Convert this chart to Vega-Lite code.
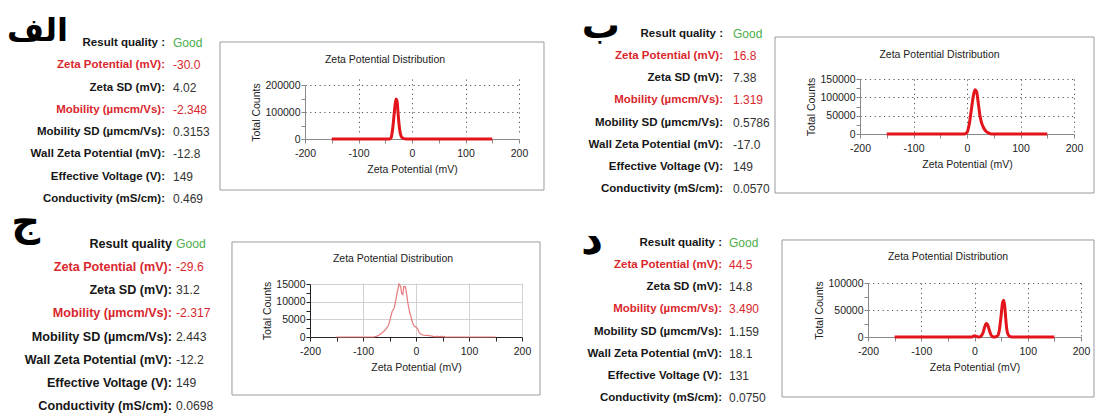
{
  "$schema": "https://vega.github.io/schema/vega-lite/v6.json",
  "padding": 0,
  "background": "white",
  "columns": 4,
  "spacing": 0,
  "bounds": "flush",
  "align": "each",
  "config": {
    "view": {"stroke": null},
    "font": "Liberation Sans",
    "axis": {
      "labelFont": "Liberation Sans", "labelFontSize": 10.5, "labelColor": "#222",
      "titleFont": "Liberation Sans", "titleFontSize": 10.5, "titleFontWeight": "normal", "titleColor": "#222",
      "tickSize": 4, "labelFlush": false, "labelOverlap": false,
      "domainWidth": 1, "tickWidth": 1, "gridWidth": 1, "tickCount": 50
    },
    "axisX": {"labelPadding": 5, "titlePadding": 6},
    "axisY": {"labelPadding": 1, "titlePadding": 3}
  },
  "datasets": {
    "info": [
      {"panel": "A", "row": 0, "label": "Result quality :", "value": "Good", "kind": "good"},
      {"panel": "A", "row": 1, "label": "Zeta Potential (mV):", "value": "-30.0", "kind": "red"},
      {"panel": "A", "row": 2, "label": "Zeta SD (mV):", "value": "4.02", "kind": "normal"},
      {"panel": "A", "row": 3, "label": "Mobility (µmcm/Vs):", "value": "-2.348", "kind": "red"},
      {"panel": "A", "row": 4, "label": "Mobility SD (µmcm/Vs):", "value": "0.3153", "kind": "normal"},
      {"panel": "A", "row": 5, "label": "Wall Zeta Potential (mV):", "value": "-12.8", "kind": "normal"},
      {"panel": "A", "row": 6, "label": "Effective Voltage (V):", "value": "149", "kind": "normal"},
      {"panel": "A", "row": 7, "label": "Conductivity (mS/cm):", "value": "0.469", "kind": "normal"},
      {"panel": "B", "row": 0, "label": "Result quality :", "value": "Good", "kind": "good"},
      {"panel": "B", "row": 1, "label": "Zeta Potential (mV):", "value": "16.8", "kind": "red"},
      {"panel": "B", "row": 2, "label": "Zeta SD (mV):", "value": "7.38", "kind": "normal"},
      {"panel": "B", "row": 3, "label": "Mobility (µmcm/Vs):", "value": "1.319", "kind": "red"},
      {"panel": "B", "row": 4, "label": "Mobility SD (µmcm/Vs):", "value": "0.5786", "kind": "normal"},
      {"panel": "B", "row": 5, "label": "Wall Zeta Potential (mV):", "value": "-17.0", "kind": "normal"},
      {"panel": "B", "row": 6, "label": "Effective Voltage (V):", "value": "149", "kind": "normal"},
      {"panel": "B", "row": 7, "label": "Conductivity (mS/cm):", "value": "0.0570", "kind": "normal"},
      {"panel": "C", "row": 0, "label": "Result quality\u00a0\u00a0", "value": "Good", "kind": "good"},
      {"panel": "C", "row": 1, "label": "Zeta Potential (mV):", "value": "-29.6", "kind": "red"},
      {"panel": "C", "row": 2, "label": "Zeta SD (mV):", "value": "31.2", "kind": "normal"},
      {"panel": "C", "row": 3, "label": "Mobility (µmcm/Vs):", "value": "-2.317", "kind": "red"},
      {"panel": "C", "row": 4, "label": "Mobility SD (µmcm/Vs):", "value": "2.443", "kind": "normal"},
      {"panel": "C", "row": 5, "label": "Wall Zeta Potential (mV):", "value": "-12.2", "kind": "normal"},
      {"panel": "C", "row": 6, "label": "Effective Voltage (V):", "value": "149", "kind": "normal"},
      {"panel": "C", "row": 7, "label": "Conductivity (mS/cm):", "value": "0.0698", "kind": "normal"},
      {"panel": "D", "row": 0, "label": "Result quality :", "value": "Good", "kind": "good"},
      {"panel": "D", "row": 1, "label": "Zeta Potential (mV):", "value": "44.5", "kind": "red"},
      {"panel": "D", "row": 2, "label": "Zeta SD (mV):", "value": "14.8", "kind": "normal"},
      {"panel": "D", "row": 3, "label": "Mobility (µmcm/Vs):", "value": "3.490", "kind": "red"},
      {"panel": "D", "row": 4, "label": "Mobility SD (µmcm/Vs):", "value": "1.159", "kind": "normal"},
      {"panel": "D", "row": 5, "label": "Wall Zeta Potential (mV):", "value": "18.1", "kind": "normal"},
      {"panel": "D", "row": 6, "label": "Effective Voltage (V):", "value": "131", "kind": "normal"},
      {"panel": "D", "row": 7, "label": "Conductivity (mS/cm):", "value": "0.0750", "kind": "normal"}
    ],
    "letters": [
      {"panel": "A", "letter": "الف"},
      {"panel": "B", "letter": "ب"},
      {"panel": "C", "letter": "ج"},
      {"panel": "D", "letter": "د"}
    ],
    "curves": [
      {"panel": "A", "zeta": -150, "counts": 0}, {"panel": "A", "zeta": -100, "counts": 0}, {"panel": "A", "zeta": -50, "counts": 0},
      {"panel": "A", "zeta": -42, "counts": 0}, {"panel": "A", "zeta": -39, "counts": 5000}, {"panel": "A", "zeta": -36, "counts": 40000},
      {"panel": "A", "zeta": -33, "counts": 100000}, {"panel": "A", "zeta": -30, "counts": 148000}, {"panel": "A", "zeta": -28, "counts": 140000},
      {"panel": "A", "zeta": -26, "counts": 95000}, {"panel": "A", "zeta": -24, "counts": 50000}, {"panel": "A", "zeta": -22, "counts": 22000},
      {"panel": "A", "zeta": -20, "counts": 9000}, {"panel": "A", "zeta": -17, "counts": 3000}, {"panel": "A", "zeta": -13, "counts": 500},
      {"panel": "A", "zeta": -10, "counts": 0}, {"panel": "A", "zeta": 50, "counts": 0}, {"panel": "A", "zeta": 100, "counts": 0},
      {"panel": "A", "zeta": 150, "counts": 0},
      {"panel": "B", "zeta": -150, "counts": 0}, {"panel": "B", "zeta": -100, "counts": 0}, {"panel": "B", "zeta": -50, "counts": 0},
      {"panel": "B", "zeta": -5, "counts": 0}, {"panel": "B", "zeta": 0, "counts": 4000}, {"panel": "B", "zeta": 4, "counts": 25000},
      {"panel": "B", "zeta": 8, "counts": 65000}, {"panel": "B", "zeta": 12, "counts": 105000}, {"panel": "B", "zeta": 15, "counts": 121000},
      {"panel": "B", "zeta": 18, "counts": 115000}, {"panel": "B", "zeta": 21, "counts": 85000}, {"panel": "B", "zeta": 24, "counts": 52000},
      {"panel": "B", "zeta": 27, "counts": 32000}, {"panel": "B", "zeta": 31, "counts": 17000}, {"panel": "B", "zeta": 35, "counts": 8000},
      {"panel": "B", "zeta": 40, "counts": 3000}, {"panel": "B", "zeta": 46, "counts": 0}, {"panel": "B", "zeta": 100, "counts": 0},
      {"panel": "B", "zeta": 150, "counts": 0},
      {"panel": "C", "zeta": -150, "counts": 0}, {"panel": "C", "zeta": -100, "counts": 0}, {"panel": "C", "zeta": -80, "counts": 0},
      {"panel": "C", "zeta": -72, "counts": 300}, {"panel": "C", "zeta": -66, "counts": 900}, {"panel": "C", "zeta": -60, "counts": 1700},
      {"panel": "C", "zeta": -56, "counts": 2400}, {"panel": "C", "zeta": -52, "counts": 3300}, {"panel": "C", "zeta": -48, "counts": 5500},
      {"panel": "C", "zeta": -45, "counts": 7200}, {"panel": "C", "zeta": -41, "counts": 8300}, {"panel": "C", "zeta": -38, "counts": 10500},
      {"panel": "C", "zeta": -35, "counts": 13000}, {"panel": "C", "zeta": -32, "counts": 15000}, {"panel": "C", "zeta": -29, "counts": 14300},
      {"panel": "C", "zeta": -27, "counts": 12300}, {"panel": "C", "zeta": -25, "counts": 12000}, {"panel": "C", "zeta": -23, "counts": 14300},
      {"panel": "C", "zeta": -20, "counts": 14200}, {"panel": "C", "zeta": -18, "counts": 12500}, {"panel": "C", "zeta": -15, "counts": 9300},
      {"panel": "C", "zeta": -12, "counts": 7000}, {"panel": "C", "zeta": -9, "counts": 5500}, {"panel": "C", "zeta": -6, "counts": 3800},
      {"panel": "C", "zeta": -3, "counts": 3000}, {"panel": "C", "zeta": 0, "counts": 2800}, {"panel": "C", "zeta": 3, "counts": 2300},
      {"panel": "C", "zeta": 6, "counts": 1300}, {"panel": "C", "zeta": 10, "counts": 700}, {"panel": "C", "zeta": 15, "counts": 500},
      {"panel": "C", "zeta": 20, "counts": 450}, {"panel": "C", "zeta": 25, "counts": 400}, {"panel": "C", "zeta": 30, "counts": 250},
      {"panel": "C", "zeta": 35, "counts": 100}, {"panel": "C", "zeta": 40, "counts": 200}, {"panel": "C", "zeta": 45, "counts": 100},
      {"panel": "C", "zeta": 50, "counts": 150}, {"panel": "C", "zeta": 55, "counts": 50}, {"panel": "C", "zeta": 60, "counts": 0},
      {"panel": "C", "zeta": 100, "counts": 0}, {"panel": "C", "zeta": 150, "counts": 0},
      {"panel": "D", "zeta": -150, "counts": 0}, {"panel": "D", "zeta": -100, "counts": 0}, {"panel": "D", "zeta": -50, "counts": 0},
      {"panel": "D", "zeta": -5, "counts": 0}, {"panel": "D", "zeta": -2, "counts": 1500}, {"panel": "D", "zeta": 0, "counts": 2500},
      {"panel": "D", "zeta": 3, "counts": 1000}, {"panel": "D", "zeta": 8, "counts": 0}, {"panel": "D", "zeta": 12, "counts": 1500},
      {"panel": "D", "zeta": 16, "counts": 8000}, {"panel": "D", "zeta": 19, "counts": 18000}, {"panel": "D", "zeta": 22, "counts": 25000},
      {"panel": "D", "zeta": 25, "counts": 22000}, {"panel": "D", "zeta": 28, "counts": 12000}, {"panel": "D", "zeta": 31, "counts": 4000},
      {"panel": "D", "zeta": 34, "counts": 800}, {"panel": "D", "zeta": 37, "counts": 0}, {"panel": "D", "zeta": 40, "counts": 300},
      {"panel": "D", "zeta": 44, "counts": 3000}, {"panel": "D", "zeta": 47, "counts": 15000}, {"panel": "D", "zeta": 50, "counts": 40000},
      {"panel": "D", "zeta": 53, "counts": 65000}, {"panel": "D", "zeta": 55, "counts": 68000}, {"panel": "D", "zeta": 57, "counts": 55000},
      {"panel": "D", "zeta": 59, "counts": 30000}, {"panel": "D", "zeta": 61, "counts": 12000}, {"panel": "D", "zeta": 64, "counts": 3000},
      {"panel": "D", "zeta": 68, "counts": 300}, {"panel": "D", "zeta": 72, "counts": 0}, {"panel": "D", "zeta": 100, "counts": 0},
      {"panel": "D", "zeta": 150, "counts": 0}
    ]
  },
  "concat": [
    {"width": 1, "height": 79, "data": {"values": []}, "mark": {"type": "point"}, "encoding": {}},
    {"width": 1, "height": 79, "data": {"values": []}, "mark": {"type": "point"}, "encoding": {}},
    {"width": 1, "height": 79, "data": {"values": []}, "mark": {"type": "point"}, "encoding": {}},
    {"width": 1, "height": 79, "data": {"values": []}, "mark": {"type": "point"}, "encoding": {}},
    {
      "width": 305, "height": 40,
      "layer": [
        {"data": {"name": "info"}, "transform": [{"filter": "datum.panel === 'A'"}],
         "mark": {"type": "text", "align": "right", "baseline": "middle", "font": "Liberation Sans", "fontWeight": "bold", "fontSize": 11.5},
         "encoding": {
           "x": {"datum": "label", "type": "nominal", "scale": {"type": "point", "domain": ["label", "value"], "range": [165, 173], "padding": 0}, "axis": null},
           "y": {"field": "row", "type": "ordinal", "scale": {"type": "point", "range": [-36, 120], "padding": 0}, "axis": null},
           "text": {"field": "label"},
           "color": {"condition": {"test": "datum.kind === 'red'", "value": "#d9272e"}, "value": "#161616"}}},
        {"data": {"name": "info"}, "transform": [{"filter": "datum.panel === 'A'"}],
         "mark": {"type": "text", "align": "left", "baseline": "middle", "font": "Liberation Sans", "fontSize": 12},
         "encoding": {
           "x": {"datum": "value", "type": "nominal"},
           "y": {"field": "row", "type": "ordinal"},
           "text": {"field": "value"},
           "color": {"condition": [{"test": "datum.kind === 'red'", "value": "#d9272e"}, {"test": "datum.kind === 'good'", "value": "#4cae4c"}], "value": "#333333"}}},
        {"data": {"name": "letters"}, "transform": [{"filter": "datum.panel === 'A'"}],
         "mark": {"type": "text", "align": "right", "baseline": "middle", "font": "DejaVu Sans", "fontWeight": "bold", "fontSize": 32, "dx": -97, "dy": -12, "color": "#000"},
         "encoding": {"x": {"datum": "label", "type": "nominal"}, "y": {"datum": 0, "type": "ordinal"}, "text": {"field": "letter"}}}
      ]
    },
    {
      "width": 214, "height": 60,
      "title": {"text": "Zeta Potential Distribution", "font": "Liberation Sans", "fontSize": 10.5, "fontWeight": "normal", "color": "#222", "anchor": "middle", "frame": "bounds", "offset": -23.5, "dx": 3},
      "layer": [
        {"data": {"values": [{}]},
         "mark": {"type": "rect", "filled": false, "stroke": "#9a9a9a", "strokeWidth": 1, "clip": false},
         "encoding": {
           "x": {"datum": -358.9, "type": "quantitative", "scale": {"domain": [-200, 200], "nice": false, "zero": false}},
           "x2": {"datum": 246.7},
           "y": {"datum": 359259, "type": "quantitative", "scale": {"domain": [0, 200000], "range": [60, 6], "nice": false}},
           "y2": {"datum": -188889}}},
        {"data": {"name": "curves"}, "transform": [{"filter": "datum.panel === 'A'"}],
         "mark": {"type": "line", "color": "#e3141b", "strokeWidth": 3, "interpolate": "monotone"},
         "encoding": {
           "x": {"field": "zeta", "type": "quantitative", "scale": {"domain": [-200, 200], "nice": false, "zero": false},
                 "axis": {"title": "Zeta Potential (mV)", "values": [-200, -150, -100, -50, 0, 50, 100, 150, 200], "tickCount": 50,
                          "labelExpr": "datum.value % 100 === 0 ? '' + datum.value : ''",
                          "grid": true, "gridDash": [1.2, 3.5], "gridColor": "#555",
                          "gridOpacity": {"condition": {"test": "datum.value % 100 !== 0 || datum.value === -200", "value": 0}, "value": 1},
                          "domainColor": "#888", "tickColor": "#888"}},
           "y": {"field": "counts", "type": "quantitative", "scale": {"domain": [0, 200000], "range": [60, 6], "nice": false},
                 "axis": {"title": "Total Counts", "values": [0, 50000, 100000, 150000, 200000], "tickCount": 50,
                          "labelExpr": "datum.value % 100000 === 0 ? '' + datum.value : ''",
                          "grid": true, "gridDash": [1.2, 3.5], "gridColor": "#555",
                          "gridOpacity": {"condition": {"test": "datum.value % 100000 !== 0 || datum.value === 0", "value": 0}, "value": 1},
                          "domainColor": "#888", "tickColor": "#888"}}}}
      ]
    },
    {
      "width": 338, "height": 40,
      "layer": [
        {"data": {"name": "info"}, "transform": [{"filter": "datum.panel === 'B'"}],
         "mark": {"type": "text", "align": "right", "baseline": "middle", "font": "Liberation Sans", "fontWeight": "bold", "fontSize": 11.5},
         "encoding": {
           "x": {"datum": "label", "type": "nominal", "scale": {"type": "point", "domain": ["label", "value"], "range": [201, 211], "padding": 0}, "axis": null},
           "y": {"field": "row", "type": "ordinal", "scale": {"type": "point", "range": [-45, 110], "padding": 0}, "axis": null},
           "text": {"field": "label"},
           "color": {"condition": {"test": "datum.kind === 'red'", "value": "#d9272e"}, "value": "#161616"}}},
        {"data": {"name": "info"}, "transform": [{"filter": "datum.panel === 'B'"}],
         "mark": {"type": "text", "align": "left", "baseline": "middle", "font": "Liberation Sans", "fontSize": 12},
         "encoding": {
           "x": {"datum": "value", "type": "nominal"},
           "y": {"field": "row", "type": "ordinal"},
           "text": {"field": "value"},
           "color": {"condition": [{"test": "datum.kind === 'red'", "value": "#d9272e"}, {"test": "datum.kind === 'good'", "value": "#4cae4c"}], "value": "#333333"}}},
        {"data": {"name": "letters"}, "transform": [{"filter": "datum.panel === 'B'"}],
         "mark": {"type": "text", "align": "right", "baseline": "middle", "font": "DejaVu Sans", "fontWeight": "bold", "fontSize": 38, "dx": -103, "dy": -7, "color": "#000"},
         "encoding": {"x": {"datum": "label", "type": "nominal"}, "y": {"datum": 0, "type": "ordinal"}, "text": {"field": "letter"}}}
      ]
    },
    {
      "width": 214, "height": 55,
      "title": {"text": "Zeta Potential Distribution", "font": "Liberation Sans", "fontSize": 10.5, "fontWeight": "normal", "color": "#222", "anchor": "middle", "frame": "bounds", "offset": -23.5, "dx": 5},
      "layer": [
        {"data": {"values": [{}]},
         "mark": {"type": "rect", "filled": false, "stroke": "#9a9a9a", "strokeWidth": 1, "clip": false},
         "encoding": {
           "x": {"datum": -358.9, "type": "quantitative", "scale": {"domain": [-200, 200], "nice": false, "zero": false}},
           "x2": {"datum": 237.4},
           "y": {"datum": 264545, "type": "quantitative", "scale": {"domain": [0, 150000], "range": [55, 0], "nice": false}},
           "y2": {"datum": -160909}}},
        {"data": {"name": "curves"}, "transform": [{"filter": "datum.panel === 'B'"}],
         "mark": {"type": "line", "color": "#e3141b", "strokeWidth": 3, "interpolate": "monotone"},
         "encoding": {
           "x": {"field": "zeta", "type": "quantitative", "scale": {"domain": [-200, 200], "nice": false, "zero": false},
                 "axis": {"title": "Zeta Potential (mV)", "values": [-200, -150, -100, -50, 0, 50, 100, 150, 200], "tickCount": 50,
                          "labelExpr": "datum.value % 100 === 0 ? '' + datum.value : ''",
                          "grid": true, "gridDash": [1.2, 3.5], "gridColor": "#555",
                          "gridOpacity": {"condition": {"test": "datum.value % 100 !== 0 || datum.value === -200", "value": 0}, "value": 1},
                          "domainColor": "#888", "tickColor": "#888"}},
           "y": {"field": "counts", "type": "quantitative", "scale": {"domain": [0, 150000], "range": [55, 0], "nice": false},
                 "axis": {"title": "Total Counts", "values": [0, 25000, 50000, 75000, 100000, 125000, 150000], "tickCount": 50,
                          "labelExpr": "datum.value % 50000 === 0 ? '' + datum.value : ''",
                          "grid": true, "gridDash": [1.2, 3.5], "gridColor": "#555",
                          "gridOpacity": {"condition": {"test": "datum.value % 50000 !== 0 || datum.value === 0", "value": 0}, "value": 1},
                          "domainColor": "#888", "tickColor": "#888"}}}}
      ]
    },
    {"width": 1, "height": 144, "data": {"values": []}, "mark": {"type": "point"}, "encoding": {}},
    {"width": 1, "height": 144, "data": {"values": []}, "mark": {"type": "point"}, "encoding": {}},
    {"width": 1, "height": 144, "data": {"values": []}, "mark": {"type": "point"}, "encoding": {}},
    {"width": 1, "height": 144, "data": {"values": []}, "mark": {"type": "point"}, "encoding": {}},
    {
      "width": 305, "height": 40,
      "layer": [
        {"data": {"name": "info"}, "transform": [{"filter": "datum.panel === 'C'"}],
         "mark": {"type": "text", "align": "right", "baseline": "middle", "font": "Liberation Sans", "fontWeight": "bold", "fontSize": 12.6},
         "encoding": {
           "x": {"datum": "label", "type": "nominal", "scale": {"type": "point", "domain": ["label", "value"], "range": [172, 176], "padding": 0}, "axis": null},
           "y": {"field": "row", "type": "ordinal", "scale": {"type": "point", "range": [-39, 123], "padding": 0}, "axis": null},
           "text": {"field": "label"},
           "color": {"condition": {"test": "datum.kind === 'red'", "value": "#d9272e"}, "value": "#161616"}}},
        {"data": {"name": "info"}, "transform": [{"filter": "datum.panel === 'C'"}],
         "mark": {"type": "text", "align": "left", "baseline": "middle", "font": "Liberation Sans", "fontSize": 12.2},
         "encoding": {
           "x": {"datum": "value", "type": "nominal"},
           "y": {"field": "row", "type": "ordinal"},
           "text": {"field": "value"},
           "color": {"condition": [{"test": "datum.kind === 'red'", "value": "#d9272e"}, {"test": "datum.kind === 'good'", "value": "#4cae4c"}], "value": "#333333"}}},
        {"data": {"name": "letters"}, "transform": [{"filter": "datum.panel === 'C'"}],
         "mark": {"type": "text", "align": "right", "baseline": "middle", "font": "DejaVu Sans", "fontWeight": "bold", "fontSize": 40, "dx": -132, "dy": -21, "color": "#000"},
         "encoding": {"x": {"datum": "label", "type": "nominal"}, "y": {"datum": 0, "type": "ordinal"}, "text": {"field": "letter"}}}
      ]
    },
    {
      "width": 217, "height": 54,
      "title": {"text": "Zeta Potential Distribution", "font": "Liberation Sans", "fontSize": 10.5, "fontWeight": "normal", "color": "#222", "anchor": "middle", "frame": "bounds", "offset": -23.5, "dx": 7},
      "layer": [
        {"data": {"values": [{}]},
         "mark": {"type": "rect", "filled": false, "stroke": "#9a9a9a", "strokeWidth": 1, "clip": false},
         "encoding": {
           "x": {"datum": -347.2, "type": "quantitative", "scale": {"domain": [-200, 200], "range": [5, 217], "nice": false, "zero": false}},
           "x2": {"datum": 234},
           "y": {"datum": 26887, "type": "quantitative", "scale": {"domain": [0, 15000], "range": [54, 1], "nice": false}},
           "y2": {"datum": -16415}}},
        {"data": {"name": "curves"}, "transform": [{"filter": "datum.panel === 'C'"}],
         "mark": {"type": "line", "color": "#e77b7b", "strokeWidth": 1.2},
         "encoding": {
           "x": {"field": "zeta", "type": "quantitative", "scale": {"domain": [-200, 200], "range": [5, 217], "nice": false, "zero": false},
                 "axis": {"title": "Zeta Potential (mV)", "values": [-200, -150, -100, -50, 0, 50, 100, 150, 200], "tickCount": 50,
                          "labelExpr": "datum.value % 100 === 0 ? '' + datum.value : ''",
                          "grid": true, "gridColor": "#d2d2d2",
                          "gridOpacity": {"condition": {"test": "datum.value % 100 !== 0 || datum.value === -200", "value": 0}, "value": 1},
                          "domainColor": "#222", "tickColor": "#222"}},
           "y": {"field": "counts", "type": "quantitative", "scale": {"domain": [0, 15000], "range": [54, 1], "nice": false},
                 "axis": {"title": "Total Counts", "values": [0, 2500, 5000, 7500, 10000, 12500, 15000], "tickCount": 50, "offset": -5,
                          "labelExpr": "datum.value % 5000 === 0 ? '' + datum.value : ''",
                          "grid": true, "gridColor": "#d2d2d2",
                          "gridOpacity": {"condition": {"test": "datum.value % 5000 !== 0 || datum.value === 0", "value": 0}, "value": 1},
                          "domainColor": "#222", "tickColor": "#222"}}}}
      ]
    },
    {
      "width": 338, "height": 40,
      "layer": [
        {"data": {"name": "info"}, "transform": [{"filter": "datum.panel === 'D'"}],
         "mark": {"type": "text", "align": "right", "baseline": "middle", "font": "Liberation Sans", "fontWeight": "bold", "fontSize": 11.5},
         "encoding": {
           "x": {"datum": "label", "type": "nominal", "scale": {"type": "point", "domain": ["label", "value"], "range": [200, 207], "padding": 0}, "axis": null},
           "y": {"field": "row", "type": "ordinal", "scale": {"type": "point", "range": [-40, 115], "padding": 0}, "axis": null},
           "text": {"field": "label"},
           "color": {"condition": {"test": "datum.kind === 'red'", "value": "#d9272e"}, "value": "#161616"}}},
        {"data": {"name": "info"}, "transform": [{"filter": "datum.panel === 'D'"}],
         "mark": {"type": "text", "align": "left", "baseline": "middle", "font": "Liberation Sans", "fontSize": 12},
         "encoding": {
           "x": {"datum": "value", "type": "nominal"},
           "y": {"field": "row", "type": "ordinal"},
           "text": {"field": "value"},
           "color": {"condition": [{"test": "datum.kind === 'red'", "value": "#d9272e"}, {"test": "datum.kind === 'good'", "value": "#4cae4c"}], "value": "#333333"}}},
        {"data": {"name": "letters"}, "transform": [{"filter": "datum.panel === 'D'"}],
         "mark": {"type": "text", "align": "right", "baseline": "middle", "font": "DejaVu Sans", "fontWeight": "bold", "fontSize": 43, "dx": -119, "dy": -2, "color": "#000"},
         "encoding": {"x": {"datum": "label", "type": "nominal"}, "y": {"datum": 0, "type": "ordinal"}, "text": {"field": "letter"}}}
      ]
    },
    {
      "width": 221, "height": 54,
      "title": {"text": "Zeta Potential Distribution", "font": "Liberation Sans", "fontSize": 10.5, "fontWeight": "normal", "color": "#222", "anchor": "middle", "frame": "bounds", "offset": -23.5, "dx": 10},
      "layer": [
        {"data": {"values": [{}]},
         "mark": {"type": "rect", "filled": false, "stroke": "#9a9a9a", "strokeWidth": 1, "clip": false},
         "encoding": {
           "x": {"datum": -361.5, "type": "quantitative", "scale": {"domain": [-200, 200], "range": [8, 221], "nice": false, "zero": false}},
           "x2": {"datum": 224.4},
           "y": {"datum": 179630, "type": "quantitative", "scale": {"domain": [0, 100000], "range": [54, 0], "nice": false}},
           "y2": {"datum": -111111}}},
        {"data": {"name": "curves"}, "transform": [{"filter": "datum.panel === 'D'"}],
         "mark": {"type": "line", "color": "#e3141b", "strokeWidth": 3, "interpolate": "monotone"},
         "encoding": {
           "x": {"field": "zeta", "type": "quantitative", "scale": {"domain": [-200, 200], "range": [8, 221], "nice": false, "zero": false},
                 "axis": {"title": "Zeta Potential (mV)", "values": [-200, -150, -100, -50, 0, 50, 100, 150, 200], "tickCount": 50,
                          "labelExpr": "datum.value % 100 === 0 ? '' + datum.value : ''",
                          "grid": true, "gridDash": [1.2, 3.5], "gridColor": "#555",
                          "gridOpacity": {"condition": {"test": "datum.value % 100 !== 0 || datum.value === -200", "value": 0}, "value": 1},
                          "domainColor": "#888", "tickColor": "#888"}},
           "y": {"field": "counts", "type": "quantitative", "scale": {"domain": [0, 100000], "range": [54, 0], "nice": false},
                 "axis": {"title": "Total Counts", "values": [0, 25000, 50000, 75000, 100000], "tickCount": 50, "offset": -8,
                          "labelExpr": "datum.value % 50000 === 0 ? '' + datum.value : ''",
                          "grid": true, "gridDash": [1.2, 3.5], "gridColor": "#555",
                          "gridOpacity": {"condition": {"test": "datum.value % 50000 !== 0 || datum.value === 0", "value": 0}, "value": 1},
                          "domainColor": "#888", "tickColor": "#888"}}}}
      ]
    }
  ]
}
